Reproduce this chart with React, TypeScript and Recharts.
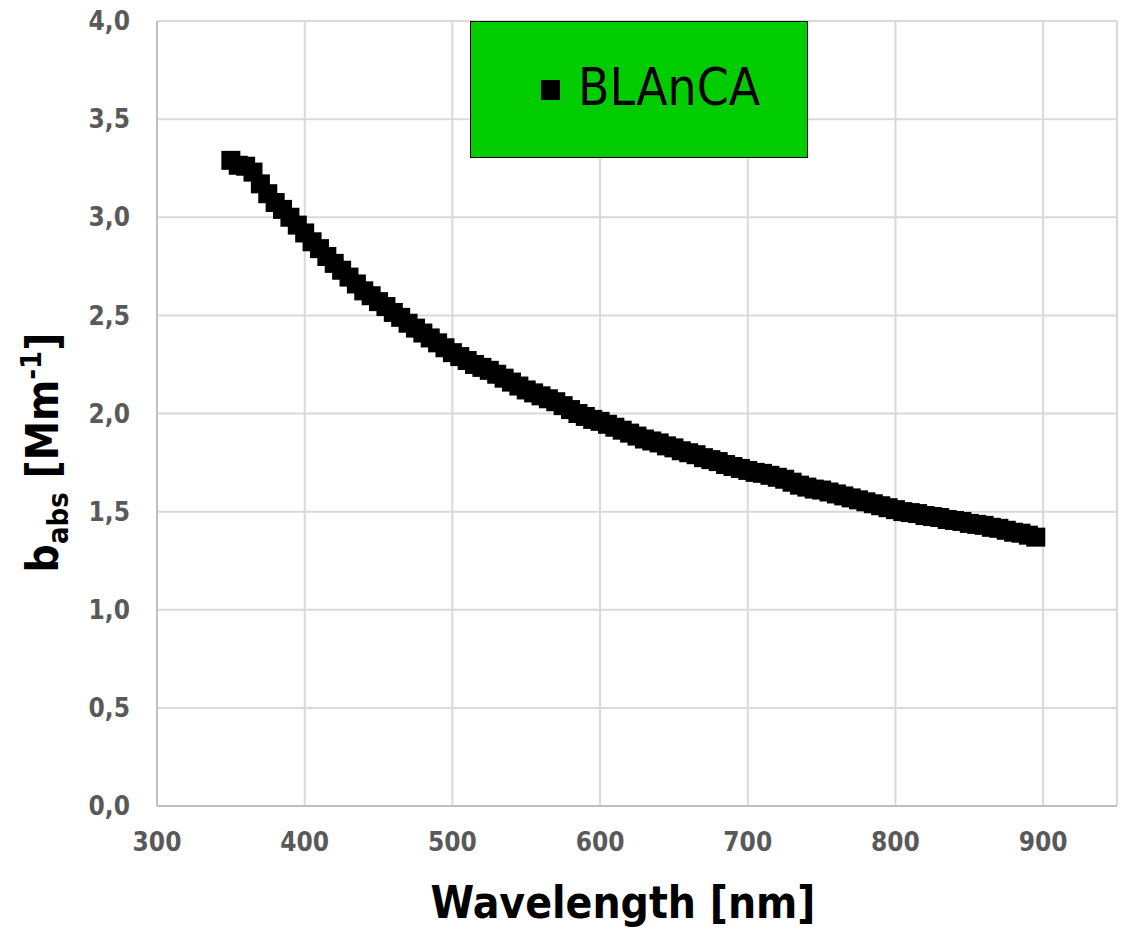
import React from 'react';
import {
  ScatterChart,
  Scatter,
  XAxis,
  YAxis,
  CartesianGrid,
  Legend,
} from 'recharts';

// Absorption coefficient spectrum (BLAnCA), wavelength in nm, b_abs in Mm^-1
const wavelengths = [
  350, 355, 360, 365, 370, 375, 380, 385, 390, 395,
  400, 405, 410, 415, 420, 425, 430, 435, 440, 445,
  450, 455, 460, 465, 470, 475, 480, 485, 490, 495,
  500, 505, 510, 515, 520, 525, 530, 535, 540, 545,
  550, 555, 560, 565, 570, 575, 580, 585, 590, 595,
  600, 605, 610, 615, 620, 625, 630, 635, 640, 645,
  650, 655, 660, 665, 670, 675, 680, 685, 690, 695,
  700, 705, 710, 715, 720, 725, 730, 735, 740, 745,
  750, 755, 760, 765, 770, 775, 780, 785, 790, 795,
  800, 805, 810, 815, 820, 825, 830, 835, 840, 845,
  850, 855, 860, 865, 870, 875, 880, 885, 890, 895,
];

const babs = [
  3.29, 3.265, 3.26, 3.23, 3.17, 3.12, 3.075, 3.04, 3.0, 2.96,
  2.92, 2.875, 2.84, 2.8, 2.765, 2.73, 2.695, 2.66, 2.625, 2.6,
  2.57, 2.545, 2.515, 2.49, 2.46, 2.435, 2.41, 2.385, 2.36, 2.335,
  2.31, 2.29, 2.27, 2.25, 2.235, 2.22, 2.2, 2.18, 2.16, 2.14,
  2.12, 2.105, 2.09, 2.075, 2.06, 2.04, 2.02, 2.0, 1.985, 1.97,
  1.96, 1.945, 1.93, 1.915, 1.9, 1.885, 1.87, 1.86, 1.85, 1.835,
  1.825, 1.81, 1.8, 1.79, 1.775, 1.765, 1.755, 1.74, 1.73, 1.72,
  1.71, 1.7, 1.695, 1.685, 1.675, 1.665, 1.65, 1.635, 1.625, 1.615,
  1.61, 1.6, 1.59, 1.58, 1.57, 1.56, 1.55, 1.54, 1.53, 1.52,
  1.51, 1.5, 1.495, 1.49, 1.48, 1.475, 1.47, 1.46, 1.455, 1.45,
  1.44, 1.435, 1.43, 1.42, 1.415, 1.405, 1.395, 1.39, 1.38, 1.37,
];

const xTicks = [300, 400, 500, 600, 700, 800, 900];
const yTicks = [0, 0.5, 1, 1.5, 2, 2.5, 3, 3.5, 4];

const seriesName = 'BLAnCA';

const data = wavelengths.map((w, i) => ({ wavelength: w, value: babs[i] }));

const FONT = "'DejaVu Sans Condensed', 'DejaVu Sans', sans-serif";
const TICK_COLOR = '#595959';
const MARKER = 19;

const SquareMarker = (props: any) => {
  const { cx, cy } = props;
  if (cx == null || cy == null) return null;
  return (
    <rect
      x={cx - MARKER / 2}
      y={cy - MARKER / 2}
      width={MARKER}
      height={MARKER}
      fill="#000000"
    />
  );
};

const formatY = (v: number) => v.toFixed(1).replace('.', ',');

const XTitle = (props: any) => {
  const { viewBox } = props;
  const cx = viewBox.x + viewBox.width / 2 - 14;
  return (
    <text
      x={cx}
      y={918}
      textAnchor="middle"
      fontFamily={FONT}
      fontWeight="bold"
      fontSize={44}
      fill="#000000"
    >
      Wavelength [nm]
    </text>
  );
};

const YTitle = (props: any) => {
  const { viewBox } = props;
  const cy = viewBox.y + viewBox.height / 2 + 39;
  return (
    <text
      transform={`translate(58, ${cy}) rotate(-90)`}
      x={0}
      y={0}
      textAnchor="middle"
      fontFamily={FONT}
      fontWeight="bold"
      fontSize={44}
      fill="#000000"
    >
      <tspan>b</tspan>
      <tspan fontSize={29} dy={10}>abs</tspan>
      <tspan dy={-10}> [Mm</tspan>
      <tspan fontSize={29} dy={-17}>-1</tspan>
      <tspan dy={17}>]</tspan>
    </text>
  );
};

const LegendBox = () => (
  <div
    style={{
      boxSizing: 'border-box',
      width: 338,
      height: 137,
      background: '#00CC00',
      border: '1px solid #000000',
      position: 'relative',
    }}
  >
    <div
      style={{
        position: 'absolute',
        left: 70,
        top: 58,
        width: 19,
        height: 20,
        background: '#000000',
      }}
    />
    <span
      style={{
        position: 'absolute',
        left: 107,
        top: 36,
        fontFamily: FONT,
        fontSize: 51,
        lineHeight: '60px',
        color: '#000000',
        whiteSpace: 'nowrap',
      }}
    >
      {seriesName}
    </span>
  </div>
);

export default function App() {
  return (
    <div style={{ position: 'absolute', left: 0, top: 0, width: 1124, height: 929, background: '#ffffff' }}>
      <ScatterChart
        width={1124}
        height={929}
        margin={{ top: 21, right: 7, bottom: 0, left: 0 }}
      >
        <CartesianGrid stroke="#d9d9d9" strokeWidth={2} />
        <XAxis
          type="number"
          dataKey="wavelength"
          domain={[300, 950]}
          ticks={xTicks}
          allowDataOverflow
          height={123}
          axisLine={{ stroke: '#bfbfbf', strokeWidth: 2 }}
          tickLine={false}
          tickSize={0}
          tickMargin={27}
          tick={{ fill: TICK_COLOR, fontFamily: FONT, fontWeight: 'bold', fontSize: 26 }}
          label={{ content: XTitle }}
        />
        <YAxis
          type="number"
          dataKey="value"
          domain={[0, 4]}
          ticks={yTicks}
          allowDataOverflow
          width={157}
          axisLine={{ stroke: '#bfbfbf', strokeWidth: 2 }}
          tickLine={false}
          tickSize={0}
          tickMargin={27}
          tickFormatter={formatY}
          tick={{ fill: TICK_COLOR, fontFamily: FONT, fontWeight: 'bold', fontSize: 26 }}
          label={{ content: YTitle }}
        />
        <Legend
          layout="horizontal"
          verticalAlign="middle"
          align="center"
          content={LegendBox}
          wrapperStyle={{ left: 470, top: 21, width: 338, height: 137 }}
        />
        <Scatter
          name={seriesName}
          data={data}
          shape={SquareMarker}
          isAnimationActive={false}
        />
      </ScatterChart>
    </div>
  );
}
